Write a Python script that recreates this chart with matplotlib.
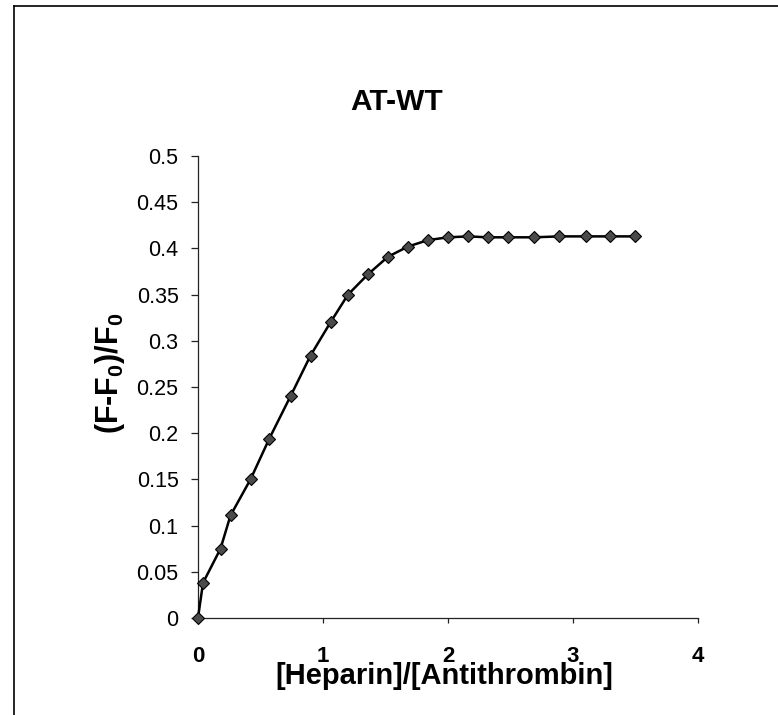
import matplotlib
matplotlib.use("Agg")
import matplotlib.pyplot as plt
from matplotlib.lines import Line2D

plt.rcParams['font.family'] = ['Liberation Sans', 'DejaVu Sans']
plt.rcParams['mathtext.fontset'] = 'custom'
plt.rcParams['mathtext.rm'] = 'Liberation Sans:bold'
plt.rcParams['mathtext.bf'] = 'Liberation Sans:bold'

# Titration of wild-type antithrombin with heparin
ratio = [0.0, 0.04, 0.18, 0.26, 0.42, 0.57, 0.74, 0.90, 1.06, 1.20, 1.36,
         1.52, 1.68, 1.84, 2.00, 2.16, 2.32, 2.48, 2.69, 2.89, 3.10, 3.30, 3.50]
fluor_change = [0.0, 0.038, 0.075, 0.111, 0.150, 0.194, 0.240, 0.284, 0.320,
                0.350, 0.372, 0.391, 0.402, 0.409, 0.412, 0.413, 0.412, 0.412,
                0.412, 0.413, 0.413, 0.413, 0.413]

x_ticks = [0, 1, 2, 3, 4]
x_tick_labels = ['0', '1', '2', '3', '4']
y_ticks = [0, 0.05, 0.1, 0.15, 0.2, 0.25, 0.3, 0.35, 0.4, 0.45, 0.5]
y_tick_labels = ['0', '0.05', '0.1', '0.15', '0.2', '0.25', '0.3', '0.35',
                 '0.4', '0.45', '0.5']

W, H = 778, 715
fig = plt.figure(figsize=(W / 100, H / 100), dpi=100)
fig.patch.set_facecolor('white')

# chart-area frame (left and top edges)
fx = 14 / W
fy = 1 - 6 / H
fig.add_artist(Line2D([fx, fx], [0, fy], color='black', lw=1.2, transform=fig.transFigure))
fig.add_artist(Line2D([fx, 1], [fy, fy], color='black', lw=1.2, transform=fig.transFigure))

left, right = 198 / W, 698 / W
top, bottom = 1 - 156 / H, 1 - 618 / H
ax = fig.add_axes([left, bottom, right - left, top - bottom])

ax.plot(ratio, fluor_change, color='black', lw=1.8, marker='D', markersize=6,
        markerfacecolor='#4a4a4a', markeredgecolor='black', markeredgewidth=0.8,
        clip_on=False, zorder=3)

ax.set_xlim(0, 4)
ax.set_ylim(0, 0.5)
ax.set_xticks(x_ticks)
ax.set_xticklabels(x_tick_labels, fontsize=16, fontweight='bold')
ax.set_yticks(y_ticks)
ax.set_yticklabels(y_tick_labels, fontsize=15.5)

for s in ('top', 'right'):
    ax.spines[s].set_visible(False)
for s in ('left', 'bottom'):
    ax.spines[s].set_linewidth(0.9)
    ax.spines[s].set_color('#222222')

ax.tick_params(axis='y', direction='out', length=5, width=0.9, pad=9, colors='#222222',
               labelcolor='black')
ax.tick_params(axis='x', direction='out', length=3.5, width=0.9, pad=17, colors='#222222',
               labelcolor='black')

fig.text(397 / W, 1 - 102 / H, 'AT-WT', ha='center', va='center',
         fontsize=21.5, fontweight='bold')
fig.text(444 / W, 1 - 676 / H, '[Heparin]/[Antithrombin]', ha='center', va='center',
         fontsize=21, fontweight='bold')
fig.text(110 / W, 1 - 373 / H, r'(F-F$_0$)/F$_0$', ha='center', va='center',
         rotation=90, fontsize=22, fontweight='bold')

fig.savefig('out.png', dpi=100, facecolor='white')
